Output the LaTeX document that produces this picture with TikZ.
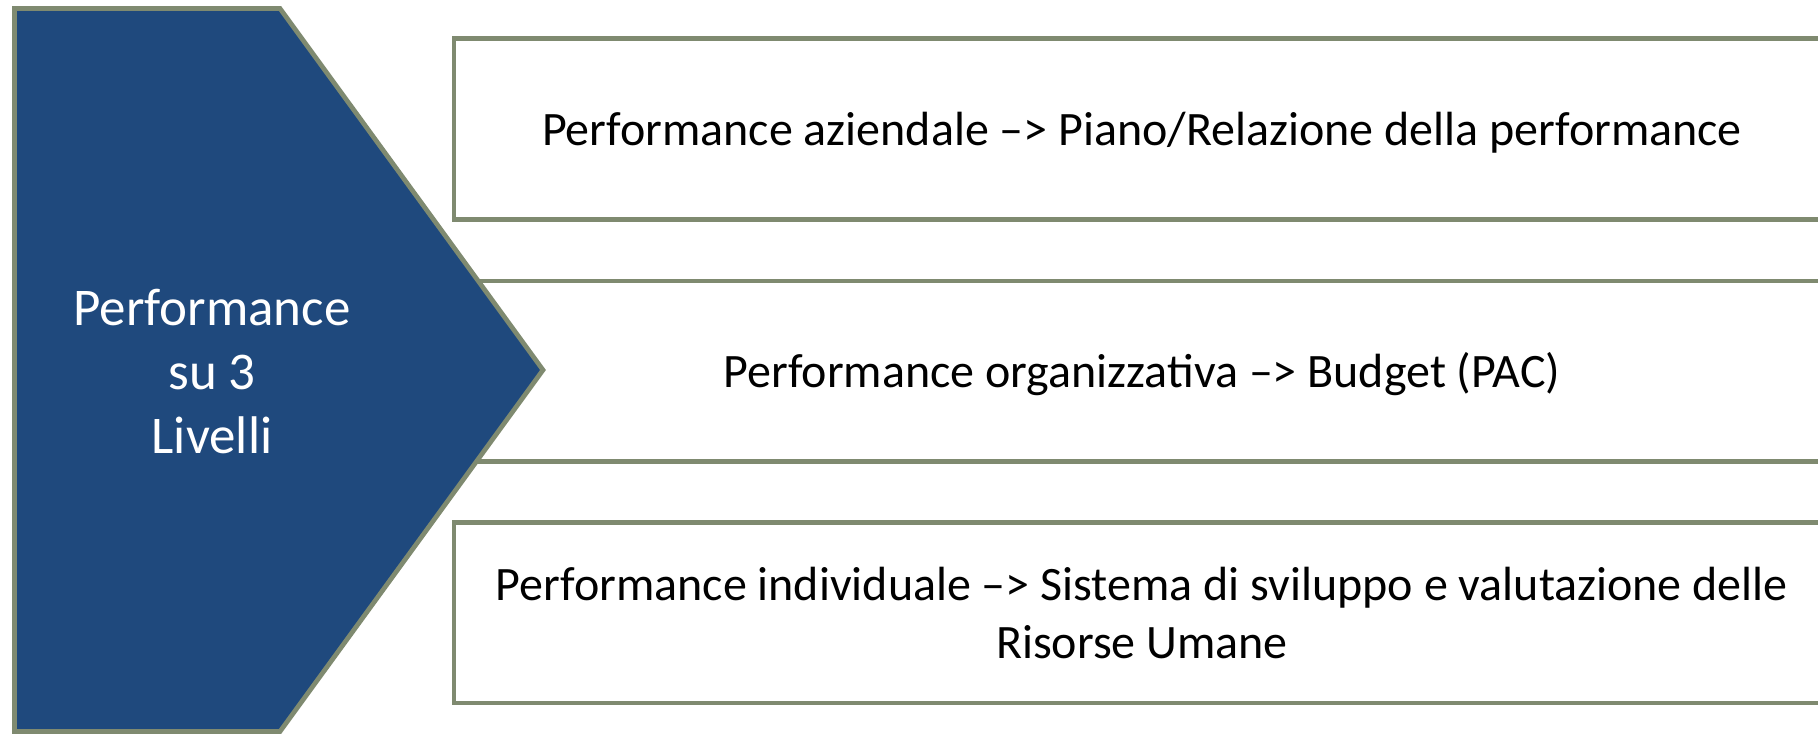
\documentclass[tikz,border=0pt]{standalone}
\usepackage{fontspec}
\setmainfont{Carlito}
\definecolor{chevblue}{RGB}{31,73,125}
\definecolor{edgegreen}{RGB}{127,138,112}
\begin{document}
\begin{tikzpicture}[x=1pt,y=-1pt,
  levelbox/.style={rectangle, draw=edgegreen, line width=4.7pt, fill=white,
    minimum width=1376pt, minimum height=180.6pt, inner sep=0pt,
    align=center, text=black, font=\fontsize{48}{58}\selectfont},
  oneline/.style={text height=34pt, text depth=2pt},
  chevron/.style={draw=edgegreen, fill=chevblue, line width=4.7pt, line join=miter},
  chevtext/.style={align=center, text=white, inner sep=0pt, font=\fontsize{53}{64}\selectfont}]
\useasboundingbox (0,0) rectangle (1818,734);
% the three level boxes, running past the right edge
\node[levelbox, oneline] (aziendale) at (1142,129)
  {Performance aziendale –> Piano/Relazione della performance};
\node[levelbox, oneline] (organizzativa) at (1142,371.2)
  {Performance organizzativa –> Budget (PAC)};
\node[levelbox] (individuale) at (1142,612.8)
  {Performance individuale –> Sistema di sviluppo e valutazione delle\\Risorse Umane};
% chevron drawn over the middle box
\draw[chevron] (14.5,8.5) -- (280,8.5) -- (543,370) -- (280,731.5) -- (14.5,731.5) -- cycle;
\node[chevtext] (livelli) at (212,372) {Performance\\su 3\\Livelli};
\end{tikzpicture}
\end{document}
